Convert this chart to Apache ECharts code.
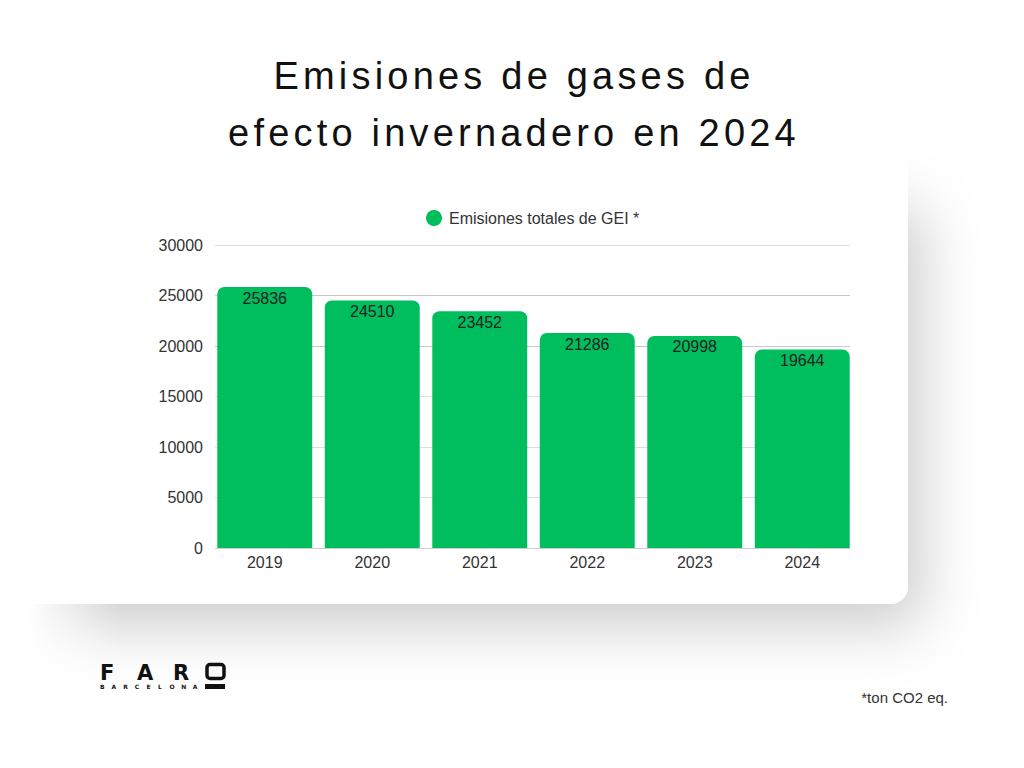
<!DOCTYPE html>
<html>
<head>
<meta charset="utf-8">
<script src="https://cdn.jsdelivr.net/npm/echarts@6/dist/echarts.min.js"></script>
<style>
  html, body { margin: 0; padding: 0; background: #ffffff; }
  #chart { width: 1024px; height: 768px; }
  #chart text[style*="38px"] { letter-spacing: 4.2px; }
</style>
</head>
<body>
<div id="chart"></div>
<script>
const titleLines = ['Emisiones de gases de', 'efecto invernadero en 2024'];
const seriesName = 'Emisiones totales de GEI *';
const categories = ['2019', '2020', '2021', '2022', '2023', '2024'];
const values = [25836, 24510, 23452, 21286, 20998, 19644];
const yMin = 0;
const yMax = 30000;
const yInterval = 5000;
const footnote = '*ton CO2 eq.';
const logoLetters = ['F', 'A', 'R'];
const logoSubLetters = ['B', 'A', 'R', 'C', 'E', 'L', 'O', 'N', 'A'];

const chart = echarts.init(document.getElementById('chart'), null, { renderer: 'svg' });

const font = '"Liberation Sans", Arial, Helvetica, sans-serif';
const logoFont = '"DejaVu Sans", sans-serif';
const green = '#00bd5e';
const logoX = [100, 137, 173];

chart.setOption({
  backgroundColor: '#ffffff',
  animation: false,
  textStyle: { fontFamily: font },
  graphic: [
    {
      type: 'rect', z: -10, silent: true,
      shape: { x: -80, y: 185, width: 988, height: 419, r: 18 },
      style: {
        fill: '#ffffff',
        shadowBlur: 60,
        shadowColor: 'rgba(0,0,0,0.2)',
        shadowOffsetX: 14,
        shadowOffsetY: 22
      }
    },
    {
      type: 'rect', z: -9, silent: true,
      shape: { x: 0, y: 0, width: 908, height: 235 },
      style: { fill: '#ffffff' }
    },
    {
      type: 'rect', z: -9, silent: true,
      shape: { x: 0, y: 560, width: 120, height: 140 },
      style: {
        fill: new echarts.graphic.LinearGradient(0, 0, 1, 0, [
          { offset: 0, color: 'rgba(255,255,255,1)' },
          { offset: 0.22, color: 'rgba(255,255,255,1)' },
          { offset: 1, color: 'rgba(255,255,255,0)' }
        ])
      }
    },
    {
      type: 'text', x: 514, y: 76, silent: true,
      style: { text: titleLines[0], fontSize: 38, fontFamily: font, fill: '#111111', textAlign: 'center', textVerticalAlign: 'middle' }
    },
    {
      type: 'text', x: 514, y: 133, silent: true,
      style: { text: titleLines[1], fontSize: 38, fontFamily: font, fill: '#111111', textAlign: 'center', textVerticalAlign: 'middle' }
    },
    ...logoLetters.map((l, i) => ({
      type: 'text', x: logoX[i], y: 662, silent: true,
      style: { text: l, fontSize: 21, fontWeight: 'bold', fontFamily: logoFont, fill: '#111111', textVerticalAlign: 'top' }
    })),
    {
      type: 'rect', silent: true,
      shape: { x: 207, y: 664.5, width: 17, height: 14, r: 3 },
      style: { fill: 'none', stroke: '#111111', lineWidth: 3.5 }
    },
    {
      type: 'rect', silent: true,
      shape: { x: 205, y: 684, width: 20, height: 5 },
      style: { fill: '#111111' }
    },
    ...logoSubLetters.map((l, i) => ({
      type: 'text', x: 100 + i * 11.6, y: 686.5, silent: true,
      style: { text: l, fontSize: 6, fontWeight: 'bold', fontFamily: logoFont, fill: '#111111', textVerticalAlign: 'middle' }
    })),
    {
      type: 'text', x: 948, y: 697, silent: true,
      style: { text: footnote, fontSize: 15, fontFamily: font, fill: '#333333', textAlign: 'right', textVerticalAlign: 'middle' }
    }
  ],
  legend: {
    top: 205,
    left: 421,
    data: [{ name: seriesName, icon: 'circle' }],
    itemWidth: 16,
    itemHeight: 16,
    itemGap: 8,
    textStyle: { fontSize: 16, color: '#333333', fontFamily: font, padding: [0, 0, 0, 2] }
  },
  grid: [
    { left: 215, right: 174, top: 245, bottom: 220, containLabel: false },
    { left: 211, right: 168, top: 245, bottom: 220, containLabel: false }
  ],
  xAxis: [
    {
      type: 'category', gridIndex: 0, data: categories, show: false
    },
    {
      type: 'category', gridIndex: 1,
      data: categories,
      axisTick: { show: false },
      axisLine: { show: false },
      axisLabel: { fontSize: 16, color: '#333333', margin: 6, fontFamily: font }
    }
  ],
  yAxis: [
    {
      type: 'value', gridIndex: 0,
      min: yMin, max: yMax, interval: yInterval,
      axisLine: { show: false },
      axisTick: { show: false },
      axisLabel: { fontSize: 16, color: '#333333', margin: 12, fontFamily: font, formatter: v => String(v) },
      splitLine: { lineStyle: { color: ['#cccccc', '#dddddd', '#dddddd', '#dddddd', '#c8c8c8', '#c8c8c8', '#dedede'], width: 1 } }
    },
    {
      type: 'value', gridIndex: 1,
      min: yMin, max: yMax, interval: yInterval,
      show: false,
      splitLine: { show: false }
    }
  ],
  series: [
    {
      name: seriesName,
      type: 'bar',
      xAxisIndex: 1,
      yAxisIndex: 1,
      data: values,
      barCategoryGap: '11.7%',
      itemStyle: { color: green, borderRadius: [7, 7, 0, 0] },
      label: {
        show: true,
        position: 'insideTop',
        distance: 3,
        fontSize: 16,
        color: '#222222',
        fontFamily: font
      }
    }
  ]
});
</script>
</body>
</html>
